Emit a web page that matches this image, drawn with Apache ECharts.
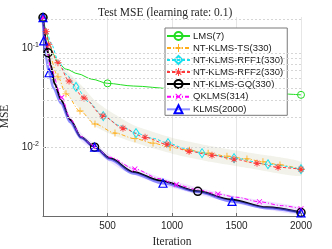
<!DOCTYPE html>
<html><head><meta charset="utf-8">
<script src="https://cdn.jsdelivr.net/npm/echarts@6/dist/echarts.min.js"></script>
<style>html,body{margin:0;padding:0;background:#fff}#c{width:332px;height:249px}</style>
</head><body><div id="c"></div>
<script>
// ---- data ----
var seriesNames = ['LMS(7)','NT-KLMS-TS(330)','NT-KLMS-RFF1(330)','NT-KLMS-RFF2(330)','NT-KLMS-GQ(330)','QKLMS(314)','KLMS(2000)'];
var xTicks = [0, 500, 1000, 1500, 2000];
var yMajorTicks = [0.01, 0.1];
var yMinorTicks = [0.002,0.003,0.004,0.005,0.006,0.007,0.008,0.009,0.02,0.03,0.04,0.05,0.06,0.07,0.08,0.09,0.2];

var lmsIter = [0, 20, 50, 80, 116, 180, 271, 380, 500, 700, 1000, 1250, 1500, 1750, 2000];
var lmsMSE  = [0.207, 0.16, 0.11, 0.088, 0.072, 0.062, 0.0556, 0.049, 0.0445, 0.0418, 0.0393, 0.0378, 0.0365, 0.0352, 0.034];
var lmsMarks = [0, 500, 1000, 1500, 2000];

var tsIter = [0, 20, 50, 116, 178, 287, 403, 558, 713, 853, 985, 1135, 1280, 1426, 1581, 1705, 1837, 2000];
var tsMSE  = [0.207, 0.13, 0.085, 0.0518, 0.0348, 0.0233, 0.0172, 0.0139, 0.0122, 0.0110, 0.0100, 0.0093, 0.0087, 0.0081, 0.0076, 0.0071, 0.0066, 0.00597];
var tsMarks = [0, 116, 178, 287, 403, 558, 713, 853, 985, 1135, 1280, 1426, 1581, 1705, 1837, 2000];

var rff1Iter = [0, 30, 60, 120, 180, 256, 350, 467, 600, 721, 850, 969, 1100, 1233, 1481, 1744, 2000];
var rff1MSE  = [0.207, 0.15, 0.115, 0.075, 0.055, 0.0409, 0.029, 0.0207, 0.0165, 0.0139, 0.0123, 0.0110, 0.0097, 0.00869, 0.00773, 0.00671, 0.00597];
var rff1Marks = [0, 256, 467, 721, 969, 1233, 1481, 1744, 2000];

var rff2Iter = [0, 25, 45, 116, 202, 318, 465, 620, 791, 961, 1132, 1310, 1481, 1659, 1822, 2000];
var rff2MSE  = [0.207, 0.15, 0.11, 0.072, 0.047, 0.0316, 0.0207, 0.0156, 0.0126, 0.0107, 0.0091, 0.00828, 0.00755, 0.00687, 0.00625, 0.00597];
var rff2Marks = rff2Iter;

var gqIter = [0, 10, 25, 39, 60, 90, 140, 210, 295, 400, 520, 700, 900, 1200, 1450, 1736, 2000];
var gqMSE  = [0.207, 0.15, 0.11, 0.091, 0.068, 0.044, 0.030, 0.019, 0.0126, 0.0100, 0.0077, 0.0056, 0.0046, 0.00356, 0.00295, 0.00245, 0.00217];
var gqMarks = [0, 39, 400, 1200, 2000];

var qIter = [0, 20, 60, 145, 210, 295, 390, 520, 712, 900, 1034, 1200, 1356, 1500, 1678, 1850, 2000];
var qMSE  = [0.207, 0.12, 0.064, 0.032, 0.0195, 0.0128, 0.0102, 0.0079, 0.0060, 0.0048, 0.00416, 0.0037, 0.00334, 0.0031, 0.00279, 0.00255, 0.00237];
var qMarks = [0, 145, 390, 712, 1034, 1356, 1678, 2000];

var kIter = [0, 5, 20, 47, 80, 140, 210, 295, 400, 520, 700, 930, 1200, 1465, 1736, 2000];
var kMSE  = [0.207, 0.12, 0.085, 0.057, 0.040, 0.028, 0.018, 0.0124, 0.0100, 0.0075, 0.0054, 0.0043, 0.0035, 0.00281, 0.00240, 0.00215];
var kMarks = [0, 5, 47, 400, 930, 1465, 2000];

// shaded spread bands
var bandUpIter = [60, 100, 200, 300, 400, 500, 700, 1000, 1300, 1600, 2000];
var bandUpHigh = [0.11, 0.078, 0.057, 0.042, 0.030, 0.024, 0.0168, 0.0125, 0.0103, 0.0088, 0.0071];
var bandUpLow  = [0.075, 0.048, 0.033, 0.023, 0.0165, 0.014, 0.0112, 0.0086, 0.0071, 0.0061, 0.0051];
var bandLoIter = [40, 60, 100, 150, 200, 300, 400, 600, 900, 1200, 1500, 2000];
var bandLoHigh = [0.10, 0.076, 0.046, 0.031, 0.022, 0.0137, 0.0109, 0.0071, 0.0050, 0.0039, 0.00318, 0.00245];
var bandLoLow  = [0.06, 0.058, 0.036, 0.025, 0.018, 0.0114, 0.0092, 0.0060, 0.0042, 0.0033, 0.00267, 0.00205];

// ---- build ----
var SANS = 'Liberation Sans';
var SERIF = 'Liberation Serif';
var plusPath = 'path://M4.4,0H5.6V4.4H10V5.6H5.6V10H4.4V5.6H0V4.4H4.4Z';
var starPath = 'path://M4.4,0H5.6V4.4H10V5.6H5.6V10H4.4V5.6H0V4.4H4.4Z M1.92,1.08L8.92,8.08L8.08,8.92L1.08,1.92Z M8.08,1.08L8.92,1.92L1.92,8.92L1.08,8.08Z';

function makeData(xs, ys, marks){
  return xs.map(function(x, i){
    var d = {value: [x, ys[i]]};
    if (marks.indexOf(x) < 0) d.symbol = 'none';
    return d;
  });
}
function lineSeries(name, xs, ys, marks, opt){
  return {
    type: 'line', name: name, data: makeData(xs, ys, marks),
    smooth: 0.3, smoothMonotone: 'x', showAllSymbol: true, animation: false,
    symbol: opt.symbol, symbolSize: opt.size, symbolRotate: opt.rotate || 0,
    lineStyle: {color: opt.lineColor || opt.color, width: opt.width, type: opt.dash || 'solid', opacity: opt.lineOpacity || 1},
    itemStyle: opt.filled ? {color: opt.color, borderWidth: 0} : {color: 'rgba(0,0,0,0)', borderColor: opt.color, borderWidth: opt.bw || 1},
    z: opt.z || 3
  };
}
function bandSeries(xs, lo, hi, fill){
  return {
    type: 'custom', silent: true, z: 1, animation: false,
    data: [[xs[0], lo[0]]], encode: {x: 0, y: 1},
    renderItem: function(params, api){
      var pts = [], i;
      for (i = 0; i < xs.length; i++) pts.push(api.coord([xs[i], hi[i]]));
      for (i = xs.length - 1; i >= 0; i--) pts.push(api.coord([xs[i], lo[i]]));
      return {type: 'polygon', shape: {points: pts, smooth: 0.2}, style: {fill: fill}};
    }
  };
}

var series = [
  {type: 'line', data: [], silent: true, z: 0, animation: false,
   markLine: {silent: true, symbol: 'none', animation: false, label: {show: false},
     lineStyle: {color: '#d6d6d6', type: [2, 2], width: 1},
     data: yMinorTicks.map(function(v){ return {yAxis: v}; })}},
  bandSeries(bandUpIter, bandUpLow, bandUpHigh, 'rgba(195,195,160,0.22)'),
  bandSeries(bandLoIter, bandLoLow, bandLoHigh, 'rgba(170,120,255,0.18)'),
  lineSeries(seriesNames[0], lmsIter, lmsMSE, lmsMarks, {color: '#22dd22', symbol: 'circle', size: 7, width: 1}),
  lineSeries(seriesNames[1], tsIter, tsMSE, tsMarks, {color: '#ffae1a', symbol: plusPath, size: 7, width: 1, dash: [4, 2, 1, 2], filled: true}),
  lineSeries(seriesNames[2], rff1Iter, rff1MSE, rff1Marks, {color: '#18e0ee', symbol: 'diamond', size: [6, 9], width: 1, dash: [3, 2]}),
  lineSeries(seriesNames[3], rff2Iter, rff2MSE, rff2Marks, {color: '#ff3a3a', symbol: starPath, size: 7, width: 1, dash: [3, 2], filled: true}),
  lineSeries(seriesNames[4], gqIter, gqMSE, gqMarks, {color: '#000000', symbol: 'circle', size: 8, width: 2, bw: 1.5}),
  lineSeries(seriesNames[5], qIter, qMSE, qMarks, {color: '#ff00ff', symbol: plusPath, rotate: 45, size: 7, width: 1, dash: [4, 2, 1, 2], filled: true}),
  lineSeries(seriesNames[6], kIter, kMSE, kMarks, {color: '#0000ff', lineColor: '#4a4aff', lineOpacity: 0.6, symbol: 'triangle', size: 8, width: 2.5, bw: 1.2})
];

var chart = echarts.init(document.getElementById('c'), null, {renderer: 'canvas'});
chart.setOption({
  animation: false,
  backgroundColor: '#fff',
  title: {text: 'Test MSE (learning rate: 0.1)', left: 93, top: 2,
    textStyle: {fontFamily: SERIF, fontSize: 11.5, fontWeight: 'normal', color: '#262626'}},
  grid: {left: 43, right: 31, top: 17, bottom: 33, containLabel: false, outerBoundsMode: 'none'},
  legend: {
    data: seriesNames, orient: 'vertical', left: 165, top: 28,
    padding: [3, 4, 1, 1], itemGap: 2, itemWidth: 23, itemHeight: 10,
    backgroundColor: '#fff', borderColor: '#7a7a7a', borderWidth: 1,
    textStyle: {fontFamily: SANS, fontSize: 9.5, color: '#1a1a1a', padding: [0, 0, 0, -2]},
    selectedMode: false
  },
  xAxis: {
    type: 'value', min: xTicks[0], max: xTicks[xTicks.length - 1], interval: 500,
    name: 'Iteration', nameLocation: 'middle', nameGap: 17,
    nameTextStyle: {fontFamily: SERIF, fontSize: 11.5, color: '#262626'},
    axisLine: {show: true, lineStyle: {color: '#6a6a6a', width: 1}},
    axisTick: {show: true, inside: true, length: 3, lineStyle: {color: '#6a6a6a'}},
    axisLabel: {fontFamily: SANS, fontSize: 10, color: '#262626', margin: 5,
      formatter: function(v){ return v === 0 ? '' : String(v); }},
    splitLine: {show: true, showMinLine: false, showMaxLine: true, lineStyle: {color: '#e6e6e6', width: 1}}
  },
  yAxis: {
    type: 'log', logBase: 10, min: 0.002, max: 0.21,
    name: 'MSE', nameLocation: 'middle', nameGap: 29, nameRotate: 90,
    nameTextStyle: {fontFamily: SERIF, fontSize: 11.5, color: '#262626'},
    axisLine: {show: true, lineStyle: {color: '#6a6a6a', width: 1}},
    axisTick: {show: true, inside: true, length: 3, lineStyle: {color: '#6a6a6a'},
      customValues: yMajorTicks},
    axisLabel: {margin: 4, customValues: yMajorTicks,
      formatter: function(v){
        var e = Math.round(Math.log(v) / Math.LN10);
        if (Math.abs(Math.pow(10, e) - v) / v > 1e-6) return '';
        return '{b|10}{s|' + e + '}';
      },
      rich: {b: {fontFamily: SANS, fontSize: 10, color: '#262626'},
             s: {fontFamily: SANS, fontSize: 7, color: '#262626', padding: [0, 0, 7, 0]}}},
    splitLine: {show: true, showMinLine: false, showMaxLine: false, lineStyle: {color: '#e6e6e6', width: 1}}
  },
  series: series
});
</script></body></html>
